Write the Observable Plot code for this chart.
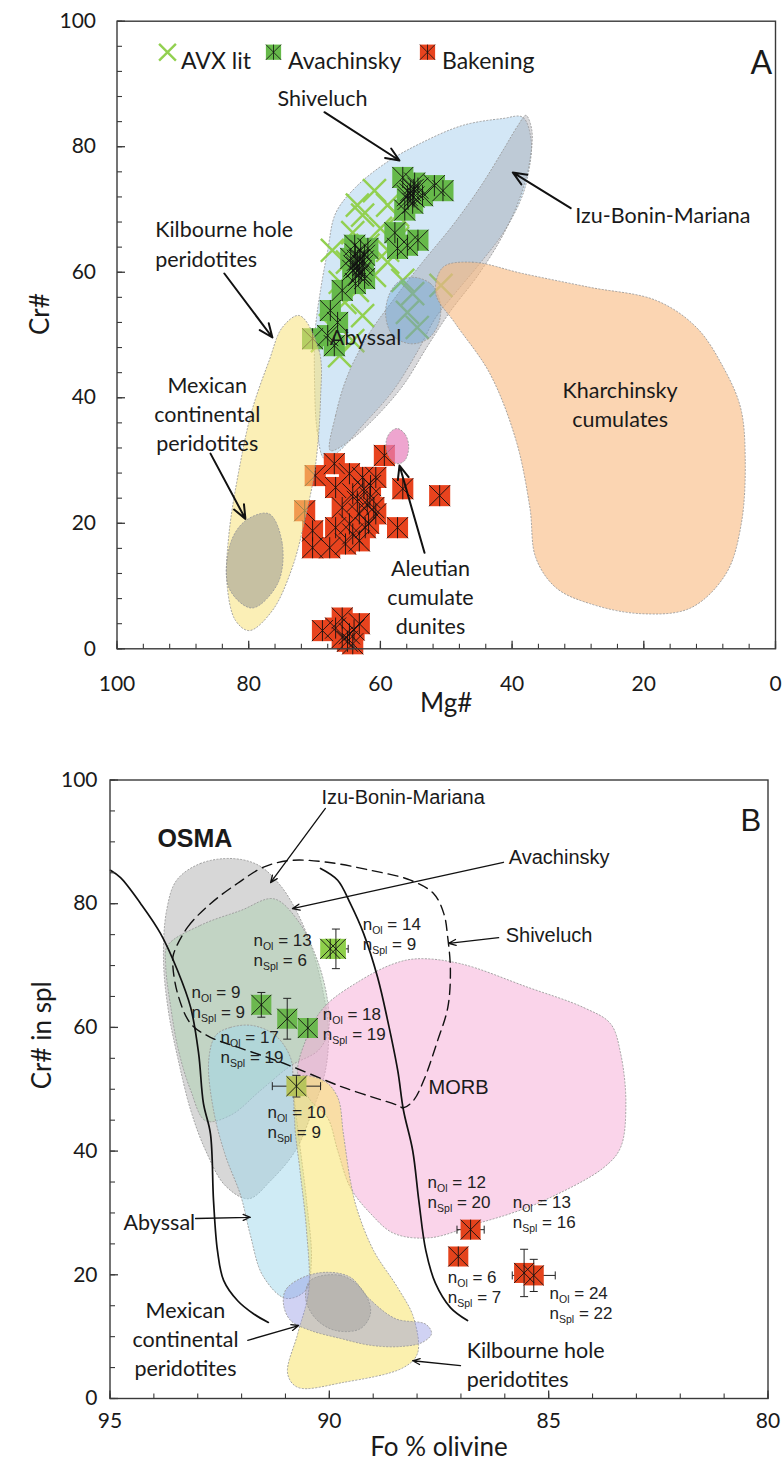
<!DOCTYPE html>
<html>
<head>
<meta charset="utf-8">
<script src="https://cdn.jsdelivr.net/npm/d3@7"></script>
<script src="https://cdn.jsdelivr.net/npm/@observablehq/plot@0.6"></script>
<style>
  body { margin: 0; background: #fff; }
  #chart { width: 782px; }
  #chart svg { display: block; }
</style>
</head>
<body>
<div id="chart"></div>
<script>
// ---------- Panel A: Cr# vs Mg# of spinel ----------
const mgTicks = [100, 80, 60, 40, 20, 0];
const crTicksA = [0, 20, 40, 60, 80, 100];

// [Mg#, Cr#]
const avxLit = [
  [60.9,73.0],[58.9,70.7],[62.7,69.1],[60.0,67.0],[64.2,66.3],[61.9,64.3],[57.4,65.4],[67.3,63.5],
  [65.0,61.6],[58.9,61.6],[60.9,59.5],[56.6,58.7],[66.1,58.4],[63.5,57.1],[55.1,56.6],[50.8,57.9],
  [55.9,53.6],[54.4,51.2],[65.4,55.2],[62.7,53.1],[67.6,51.5],[68.8,49.1],[64.2,49.1],[66.2,46.7],
  [58.9,63.5],[57.4,69.1],[63.5,70.7]
];
const avachinskyA = [
  [56.6,75.1],[54.8,74.2],[51.8,73.8],[55.9,72.2],[53.6,72.2],[55.1,71.0],[56.3,69.9],[50.5,73.0],
  [55.4,73.0],[54.3,73.4],[55.5,72.5],[55.0,73.2],[55.8,71.6],[54.9,72.0],
  [57.8,66.3],[54.3,65.1],[57.4,63.8],[55.9,64.3],
  [63.9,64.3],[63.0,63.5],[62.4,62.7],[63.5,61.9],[62.7,61.1],[64.2,60.3],[63.3,59.5],[62.4,59.0],
  [64.5,62.2],[61.9,63.8],[63.8,58.2],[65.8,57.1],[63.2,62.0],[63.6,60.8],[62.9,60.2],[63.8,62.9],
  [62.6,61.8],[63.1,59.8],[64.0,61.0],
  [67.6,53.9],[66.5,52.0],[68.0,49.9],[67.0,48.3],[70.3,49.4]
];
const bakeningA = [
  [59.4,30.8],[56.6,25.5],[51.0,24.4],[57.4,19.3],[69.9,27.6],[71.5,22.0],[67.0,29.5],[64.7,27.9],
  [62.7,27.3],[60.7,27.3],[66.8,25.7],[64.2,24.7],[61.6,24.1],[65.8,22.5],[63.2,21.5],[60.7,21.5],
  [66.8,19.3],[64.2,18.3],[70.3,18.8],[70.3,16.1],[67.7,16.1],[65.3,16.7],[63.2,17.2],[64.7,19.9],
  [62.3,19.3],[61.5,26.0],[62.0,23.0],[61.0,22.5],[62.5,25.5],[63.5,23.5],[61.8,20.0],
  [68.8,2.9],[65.8,4.9],[63.2,4.0],[65.8,1.8],[64.7,2.4],[66.8,3.3],[64.2,0.8],[64.0,3.0],[65.0,1.2]
];

// compositional fields, outlines as [Mg#, Cr#]
const shiveluchFieldA = [[68.5,30.3],[69.6,34.8],[70.0,42.7],[69.9,50.7],[69.1,57.1],[68.0,63.5],[66.8,69.4],[63.8,73.5],[59.2,77.4],[54.0,80.5],[47.5,83.4],[41.4,84.5],[38.4,84.7],[37.1,81.0],[37.6,75.4],[38.7,71.5],[41.4,66.2],[44.9,61.4],[48.3,57.1],[51.6,52.8],[54.3,47.5],[58.1,41.1],[62.7,35.6],[66.5,31.3]];
const ibmFieldA = [[67.6,31.6],[66.8,37.2],[65.0,43.5],[61.9,49.9],[58.1,55.5],[53.6,61.6],[49.0,67.5],[44.7,73.8],[41.4,79.4],[39.1,83.4],[37.9,85.0],[37.0,82.6],[37.3,77.8],[38.7,72.2],[41.4,65.9],[45.2,59.5],[49.3,53.9],[52.8,48.3],[56.6,41.9],[61.2,36.4],[65.0,32.9]];
const abyssalFieldA = [[55.1,59.2],[52.4,58.2],[51.0,55.5],[51.1,52.0],[52.8,49.4],[55.4,48.6],[58.1,49.9],[59.2,53.1],[58.6,56.6],[57.2,58.5]];
const kilbourneFieldA = [[72.3,53.1],[69.3,47.5],[69.1,39.6],[69.9,28.9],[71.4,20.9],[73.4,12.9],[76.4,6.1],[79.9,2.9],[82.0,4.5],[83.3,10.4],[83.0,18.3],[81.4,28.9],[79.5,38.0],[76.9,45.9],[74.9,51.2]];
const mexicanFieldA = [[76.9,21.5],[74.9,16.7],[75.6,10.4],[79.5,6.5],[83.0,9.7],[82.8,16.7],[80.5,20.4]];
const kharchinskyFieldA = [[50.5,60.8],[46.0,61.6],[38.4,59.8],[28.2,57.6],[18.1,55.5],[12.0,51.2],[7.9,44.8],[5.3,38.4],[4.6,30.5],[5.2,19.9],[7.5,12.0],[12.9,6.5],[20.5,5.6],[28.2,7.2],[33.3,9.7],[36.4,14.5],[37.3,22.5],[39.4,33.2],[43.4,43.9],[48.6,51.8],[51.6,56.6]];
const aleutianFieldA = [[57.4,35.1],[56.2,34.1],[55.7,32.1],[56.3,30.0],[57.5,29.5],[58.8,30.8],[59.1,33.2],[58.4,34.6]];

const labelsA = [
  {text: "Shiveluch", mg: 68.8, cr: 87.9, anchor: "middle"},
  {text: "Izu-Bonin-Mariana", mg: 30.4, cr: 69.4, anchor: "start"},
  {text: "Kilbourne hole\nperidotites", mg: 94.2, cr: 64.7, anchor: "start"},
  {text: "Mexican\ncontinental\nperidotites", mg: 86.3, cr: 37.6, anchor: "middle"},
  {text: "Abyssal", mg: 67.7, cr: 49.9, anchor: "start"},
  {text: "Kharchinsky\ncumulates", mg: 23.6, cr: 39.15, anchor: "middle"},
  {text: "Aleutian\ncumulate\ndunites", mg: 52.4, cr: 8.5, anchor: "middle"}
];
const arrowsA = [
  {x1: 68.5, y1: 85.5, x2: 57.1, y2: 77.8},
  {x1: 31.1, y1: 70.2, x2: 39.9, y2: 75.9},
  {x1: 83.7, y1: 59.8, x2: 76.4, y2: 49.6},
  {x1: 85.8, y1: 31.1, x2: 80.5, y2: 20.7},
  {x1: 53.3, y1: 15.3, x2: 57.1, y2: 29.2}
];

// ---------- Panel B: Cr# in spinel vs Fo in olivine (OSMA) ----------
const foTicks = [95, 90, 85, 80];
const crTicksB = [0, 20, 40, 60, 80, 100];

// sample averages with 1σ bars
const pointsB = [
  {fo: 89.98, cr: 72.7, dFo: 0,    dCr: 0,    fill: "#8ecf4a"},
  {fo: 89.85, cr: 72.7, dFo: 0.28, dCr: 3.2,  fill: "#8ecf4a"},
  {fo: 91.55, cr: 63.65, dFo: 0,   dCr: 2.0,  fill: "#6cb84f"},
  {fo: 90.96, cr: 61.4, dFo: 0,    dCr: 3.3,  fill: "#6cb84f"},
  {fo: 90.49, cr: 59.9, dFo: 0,    dCr: 0,    fill: "#6cb84f"},
  {fo: 90.75, cr: 50.5, dFo: 0.55, dCr: 1.75, fill: "#b7c45c"},
  {fo: 86.78, cr: 27.3, dFo: 0.31, dCr: 0,    fill: "#e4431c"},
  {fo: 87.06, cr: 22.96, dFo: 0,   dCr: 0,    fill: "#e4431c"},
  {fo: 85.56, cr: 20.3, dFo: 0,    dCr: 3.83, fill: "#e4431c"},
  {fo: 85.34, cr: 19.9, dFo: 0.49, dCr: 2.6,  fill: "#e4431c"}
];
// olivine / spinel analyses behind each average
const nOl  = [13, 14, 9, 17, 18, 10, 12, 6, 13, 24];
const nSpl = [6, 9, 9, 19, 19, 9, 20, 7, 16, 22];
// where each count label sits (first line)
const nLabelPos = [
  [91.73, 74.1], [89.24, 76.6], [93.14, 65.6], [92.48, 58.4], [90.15, 62.1],
  [91.41, 46.2], [87.76, 34.9], [87.30, 19.6], [85.82, 31.7], [84.98, 17.0]
];

// fields, outlines as [Fo, Cr#]
const ibmFieldB = [[93.48,83.8],[92.94,86.5],[92.21,87.3],[91.61,86.2],[91.11,82.9],[90.70,78.1],[90.38,72.4],[90.15,66.0],[90.02,59.5],[90.09,53.0],[90.38,46.6],[90.77,40.1],[91.34,35.2],[91.84,32.3],[92.37,34.4],[92.82,40.1],[93.16,46.6],[93.44,54.6],[93.67,62.7],[93.78,70.8],[93.71,78.9]];
const avachinskyFieldB = [[93.69,73.2],[92.94,76.5],[92.02,78.9],[91.27,80.8],[90.72,77.3],[90.27,70.8],[90.04,64.3],[90.02,59.5],[90.25,56.3],[90.88,53.8],[91.57,49.8],[92.25,45.8],[92.82,44.9],[93.16,49.8],[93.44,56.3],[93.62,63.5],[93.73,70.0]];
const abyssalFieldB = [[92.59,58.7],[92.25,60.0],[91.75,60.3],[91.23,58.7],[90.88,55.0],[90.82,49.8],[90.70,42.5],[90.52,32.0],[90.41,22.3],[90.54,17.5],[91.00,16.2],[91.52,19.9],[91.80,26.4],[92.02,32.8],[92.37,39.3],[92.64,46.6],[92.75,54.6]];
const kilbourneFieldB = [[90.72,51.9],[90.13,51.4],[89.81,48.7],[89.68,42.8],[89.52,35.2],[89.36,30.4],[88.99,23.9],[88.44,17.9],[88.08,13.1],[87.99,7.3],[88.31,5.0],[89.68,2.6],[90.72,1.8],[90.95,4.0],[90.72,10.5],[90.47,17.5],[90.52,27.2],[90.67,36.9],[90.79,44.9]];
const morbFieldB = [[90.72,52.5],[90.54,57.9],[90.13,63.2],[89.29,67.6],[88.53,70.3],[87.99,71.1],[87.01,70.3],[85.48,66.5],[84.20,63.2],[83.59,60.6],[83.36,55.8],[83.24,47.7],[83.36,40.6],[83.75,37.3],[85.11,32.0],[85.87,29.9],[86.62,28.3],[87.69,26.0],[88.53,26.7],[89.06,29.9],[89.52,34.1],[89.81,40.1],[90.04,45.4],[90.43,48.2]];
const mexicanFieldB = [[91.00,17.5],[90.66,19.4],[90.09,20.4],[89.52,19.6],[89.10,16.2],[88.49,12.9],[87.80,12.0],[87.67,10.5],[87.87,9.1],[88.38,8.4],[89.06,8.6],[89.74,9.7],[90.43,11.0],[90.88,12.6],[91.04,15.0]];
const mexicanCoreB = [[90.43,19.1],[89.74,19.9],[89.24,17.5],[89.06,13.9],[89.29,11.3],[89.86,11.0],[90.31,12.9],[90.54,16.2]];
const shiveluchFieldB = [[93.55,71.9],[93.23,76.2],[92.71,80.0],[92.09,83.3],[91.50,85.9],[90.88,87.0],[90.04,86.7],[89.06,85.4],[88.15,83.8],[87.62,81.6],[87.39,78.4],[87.30,74.5],[87.24,69.2],[87.30,63.2],[87.53,57.9],[87.85,51.4],[88.08,48.2],[88.31,47.0],[88.44,47.4],[89.68,50.3],[91.04,54.2],[92.09,56.8],[92.71,58.4],[93.16,60.6],[93.46,65.5],[93.57,70.3]];
// olivine–spinel mantle array bounds
const osmaLeft = [[94.99,85.4],[94.76,84.2],[94.30,80.0],[93.85,75.2],[93.46,69.2],[93.16,63.2],[92.98,55.8],[92.87,47.7],[92.71,42.8],[92.64,32.0],[92.55,23.9],[92.41,19.1],[92.09,15.8],[91.73,13.7],[91.39,12.3]];
const osmaRight = [[90.20,85.7],[89.81,83.8],[89.52,80.0],[89.22,75.2],[88.90,68.1],[88.67,61.1],[88.44,53.0],[88.31,46.6],[88.10,40.1],[87.96,32.0],[87.80,23.9],[87.58,18.6],[87.24,14.7],[86.85,12.6]];

const labelsBArial = [
  {text: "Izu-Bonin-Mariana", fo: 90.18, cr: 97.2},
  {text: "Avachinsky", fo: 85.91, cr: 87.5},
  {text: "Shiveluch", fo: 85.98, cr: 74.9},
  {text: "MORB", fo: 87.74, cr: 50.3}
];
const labelsBSans = [
  {text: "Abyssal", fo: 94.69, cr: 28.8, anchor: "start"},
  {text: "Mexican\ncontinental\nperidotites", fo: 93.28, cr: 9.9, anchor: "middle"},
  {text: "Kilbourne hole\nperidotites", fo: 86.87, cr: 5.75, anchor: "start"}
];
const arrowsB = [
  {x1: 90.09, y1: 95.4, x2: 91.34, y2: 83.4},
  {x1: 86.03, y1: 86.7, x2: 90.84, y2: 79.2},
  {x1: 86.14, y1: 74.5, x2: 87.28, y2: 73.6},
  {x1: 93.05, y1: 29.1, x2: 91.80, y2: 29.3},
  {x1: 91.86, y1: 9.4,  x2: 90.70, y2: 11.8},
  {x1: 87.01, y1: 5.3,  x2: 88.10, y2: 6.1}
];

// ---------- symbols ----------
// spreadsheet-style star: diagonal cross plus a vertical stroke, sized to the square
const excelStar = {draw(ctx, size) {
  const h = Math.sqrt(size) / 2;
  ctx.moveTo(-h, -h); ctx.lineTo(h, h);
  ctx.moveTo(-h, h); ctx.lineTo(h, -h);
  ctx.moveTo(0, -h); ctx.lineTo(0, h);
}};
const capH = {draw(ctx, size) { const w = Math.sqrt(size / Math.PI); ctx.moveTo(-w, 0); ctx.lineTo(w, 0); }};
const capV = {draw(ctx, size) { const w = Math.sqrt(size / Math.PI); ctx.moveTo(0, -w); ctx.lineTo(0, w); }};
const tickUp = {draw(ctx, size) { const l = Math.sqrt(size / Math.PI); ctx.moveTo(0, 0); ctx.lineTo(0, -l); }};
const tickRight = {draw(ctx, size) { const l = Math.sqrt(size / Math.PI); ctx.moveTo(0, 0); ctx.lineTo(l, 0); }};

const X = d => d[0], Y = d => d[1];
const axisColor = "#3a3a3a";
const sans = "Lato, 'Open Sans', sans-serif";
const arial = "'Liberation Sans', Arial, sans-serif";

function field(pts, fill, opacity) {
  return Plot.line(pts, {
    x: X, y: Y, curve: "catmull-rom-closed",
    fill, fillOpacity: opacity,
    stroke: "#9a9a9a", strokeWidth: 0.9, strokeDasharray: "1.2,2.2"
  });
}

// annotation text, split by anchor since text anchor is a constant option
function notes(rows, x, y, options) {
  return ["start", "middle", "end"].map(anchor =>
    Plot.text(rows.filter(d => (d.anchor || "start") === anchor), {x, y, text: "text", textAnchor: anchor, ...options}));
}

function inwardTicks(xMinor, xMajor, yMinor, yMajor) {
  return [
    Plot.dot(xMinor, {x: d => d, frameAnchor: "bottom", symbol: tickUp, r: 5, stroke: axisColor, strokeWidth: 1.1, fill: "none"}),
    Plot.dot(xMajor, {x: d => d, frameAnchor: "bottom", symbol: tickUp, r: 8, stroke: axisColor, strokeWidth: 1.3, fill: "none"}),
    Plot.dot(yMinor, {y: d => d, frameAnchor: "left", symbol: tickRight, r: 5, stroke: axisColor, strokeWidth: 1.1, fill: "none"}),
    Plot.dot(yMajor, {y: d => d, frameAnchor: "left", symbol: tickRight, r: 8, stroke: axisColor, strokeWidth: 1.3, fill: "none"})
  ];
}

// ---------- Panel A ----------
const chartA = Plot.plot({
  width: 782, height: 740,
  marginTop: 20.7, marginRight: 7, marginBottom: 91.7, marginLeft: 116.5,
  x: {domain: [100, 0]},
  y: {domain: [0, 100]},
  style: {fontFamily: sans, fontSize: "20px", color: "#1a1a1a", background: "#fff", overflow: "visible"},
  marks: [
    field(shiveluchFieldA, "#a8d0ee", 0.5),
    Plot.dot(avxLit, {x: X, y: Y, symbol: "times", r: 10.5, stroke: "#92d050", strokeWidth: 2.4}),
    Plot.dot(avachinskyA, {x: X, y: Y, symbol: "square", r: 11.9, fill: "#66b94a"}),
    Plot.dot(avachinskyA, {x: X, y: Y, symbol: excelStar, r: 11.9, fill: "none", stroke: "#111", strokeWidth: 0.9}),
    Plot.dot(bakeningA, {x: X, y: Y, symbol: "square", r: 11.9, fill: "#e8431e"}),
    Plot.dot(bakeningA, {x: X, y: Y, symbol: excelStar, r: 11.9, fill: "none", stroke: "#111", strokeWidth: 0.9}),
    field(ibmFieldA, "#a0a0a8", 0.4),
    field(abyssalFieldA, "#5b9bd0", 0.35),
    field(kharchinskyFieldA, "#f9b97f", 0.6),
    field(kilbourneFieldA, "#f8e27a", 0.55),
    field(mexicanFieldA, "#8c8c8c", 0.48),
    field(aleutianFieldA, "#e77fbb", 0.7),
    ...notes(labelsA, "mg", "cr", {fontSize: 21.5, lineHeight: 1.36, fill: "#1a1a1a"}),
    Plot.arrow(arrowsA, {x1: "x1", y1: "y1", x2: "x2", y2: "y2", stroke: "#111", strokeWidth: 2, headLength: 11, headAngle: 45}),
    // legend
    Plot.dot([0], {frameAnchor: "top-left", dx: 50.5, dy: 31, symbol: "times", r: 7.7, stroke: "#92d050", strokeWidth: 2.4}),
    Plot.text(["AVX lit"], {frameAnchor: "top-left", dx: 64, dy: 31, text: d => d, textAnchor: "start", fontSize: 23}),
    Plot.dot([0], {frameAnchor: "top-left", dx: 156.5, dy: 31, symbol: "square", r: 8.6, fill: "#66b94a"}),
    Plot.dot([0], {frameAnchor: "top-left", dx: 156.5, dy: 31, symbol: excelStar, r: 8.6, fill: "none", stroke: "#111", strokeWidth: 0.8}),
    Plot.text(["Avachinsky"], {frameAnchor: "top-left", dx: 171, dy: 31, text: d => d, textAnchor: "start", fontSize: 23}),
    Plot.dot([0], {frameAnchor: "top-left", dx: 310.5, dy: 31, symbol: "square", r: 8.6, fill: "#e8431e"}),
    Plot.dot([0], {frameAnchor: "top-left", dx: 310.5, dy: 31, symbol: excelStar, r: 8.6, fill: "none", stroke: "#111", strokeWidth: 0.8}),
    Plot.text(["Bakening"], {frameAnchor: "top-left", dx: 325, dy: 31, text: d => d, textAnchor: "start", fontSize: 23}),
    Plot.text(["A"], {frameAnchor: "top-left", dx: 633.5, dy: 30, text: d => d, fontSize: 32}),
    // axes
    ...inwardTicks(d3.range(0, 101, 4), mgTicks, d3.range(0, 101, 4), crTicksA),
    Plot.frame({stroke: axisColor, strokeWidth: 1.4}),
    Plot.axisX({ticks: mgTicks, tickSize: 0, tickPadding: 27, fontSize: 21, label: null}),
    Plot.axisY({ticks: crTicksA, tickSize: 0, tickPadding: 21, fontSize: 21, label: null}),
    Plot.text(["Mg#"], {frameAnchor: "bottom", dy: 63, text: d => d, fontSize: 26}),
    Plot.text(["Cr#"], {frameAnchor: "left", dx: -76, rotate: -90, text: d => d, fontSize: 26})
  ]
});

// ---------- Panel B ----------
const nRows = pointsB.map((p, i) => ({fo: nLabelPos[i][0], cr: nLabelPos[i][1], ol: nOl[i], spl: nSpl[i]}));
const withCr = pointsB.filter(d => d.dCr > 0);
const withFo = pointsB.filter(d => d.dFo > 0);

const chartB = Plot.plot({
  width: 782, height: 733,
  marginTop: 39.5, marginRight: 14.5, marginBottom: 75, marginLeft: 109.5,
  x: {domain: [95, 80]},
  y: {domain: [0, 100]},
  style: {fontFamily: sans, fontSize: "20px", color: "#1a1a1a", background: "#fff", overflow: "visible"},
  marks: [
    field(ibmFieldB, "#bdbdbd", 0.6),
    field(avachinskyFieldB, "#b1d1b5", 0.55),
    field(morbFieldB, "#f5a9d6", 0.5),
    field(abyssalFieldB, "#9fd8ec", 0.5),
    field(kilbourneFieldB, "#f7e36b", 0.55),
    field(mexicanFieldB, "#8a8ee0", 0.4),
    field(mexicanCoreB, "#8a8a8a", 0.3),
    Plot.line(osmaLeft, {x: X, y: Y, curve: "catmull-rom", stroke: "#111", strokeWidth: 1.7}),
    Plot.line(osmaRight, {x: X, y: Y, curve: "catmull-rom", stroke: "#111", strokeWidth: 1.7}),
    Plot.line(shiveluchFieldB, {x: X, y: Y, curve: "catmull-rom-closed", stroke: "#111", strokeWidth: 1.4, strokeDasharray: "10,6", fill: "none"}),
    // error bars
    Plot.link(withCr, {x1: "fo", x2: "fo", y1: d => d.cr - d.dCr, y2: d => d.cr + d.dCr, stroke: "#222", strokeWidth: 1}),
    Plot.dot(withCr, {x: "fo", y: d => d.cr - d.dCr, symbol: capH, r: 4, stroke: "#222", strokeWidth: 1, fill: "none"}),
    Plot.dot(withCr, {x: "fo", y: d => d.cr + d.dCr, symbol: capH, r: 4, stroke: "#222", strokeWidth: 1, fill: "none"}),
    Plot.link(withFo, {x1: d => d.fo - d.dFo, x2: d => d.fo + d.dFo, y1: "cr", y2: "cr", stroke: "#222", strokeWidth: 1}),
    Plot.dot(withFo, {x: d => d.fo - d.dFo, y: "cr", symbol: capV, r: 4, stroke: "#222", strokeWidth: 1, fill: "none"}),
    Plot.dot(withFo, {x: d => d.fo + d.dFo, y: "cr", symbol: capV, r: 4, stroke: "#222", strokeWidth: 1, fill: "none"}),
    // sample averages
    Plot.dot(pointsB, {x: "fo", y: "cr", symbol: "square", r: 11.3, fill: d => d.fill}),
    Plot.dot(pointsB, {x: "fo", y: "cr", symbol: excelStar, r: 11.3, fill: "none", stroke: "#111", strokeWidth: 0.9}),
    Plot.text(nRows, {x: "fo", y: "cr", text: d => `n_Ol = ${d.ol}`, textAnchor: "start", fontFamily: arial, fontSize: 17, fill: "#222"}),
    Plot.text(nRows, {x: "fo", y: "cr", dy: 20, text: d => `n_Spl = ${d.spl}`, textAnchor: "start", fontFamily: arial, fontSize: 17, fill: "#222"}),
    // annotations
    ...notes(labelsBArial, "fo", "cr", {fontFamily: arial, fontSize: 20, fill: "#1a1a1a"}),
    ...notes(labelsBSans, "fo", "cr", {fontSize: 21.5, lineHeight: 1.35, fill: "#1a1a1a"}),
    Plot.text(["OSMA"], {x: 93.92, y: 90.5, text: d => d, textAnchor: "start", fontFamily: arial, fontWeight: "bold", fontSize: 25}),
    Plot.arrow(arrowsB, {x1: "x1", y1: "y1", x2: "x2", y2: "y2", stroke: "#111", strokeWidth: 1.3, headLength: 9, headAngle: 45}),
    Plot.text(["B"], {frameAnchor: "top-left", dx: 630.5, dy: 28.5, text: d => d, fontFamily: arial, fontSize: 31}),
    // axes
    ...inwardTicks(d3.range(80, 96, 1), foTicks, d3.range(0, 101, 5), crTicksB),
    Plot.frame({stroke: axisColor, strokeWidth: 1.4}),
    Plot.axisX({ticks: foTicks, tickSize: 0, tickPadding: 15, fontSize: 21, label: null}),
    Plot.axisY({ticks: crTicksB, tickSize: 0, tickPadding: 12.5, fontSize: 21, label: null}),
    Plot.text(["Fo % olivine"], {frameAnchor: "bottom", dy: 57, text: d => d, fontSize: 26}),
    Plot.text(["Cr# in spl"], {frameAnchor: "left", dx: -67.5, rotate: -90, text: d => d, fontSize: 26})
  ]
});

// turn "n_Ol" style labels into n with a subscript
function subscriptLabels(svg) {
  const ns = "http://www.w3.org/2000/svg";
  svg.querySelectorAll("text").forEach(t => {
    if (t.children.length) return;
    const m = t.textContent.match(/^n_(\S+)(.*)$/);
    if (!m) return;
    t.textContent = "";
    const a = document.createElementNS(ns, "tspan");
    a.textContent = "n";
    const b = document.createElementNS(ns, "tspan");
    b.textContent = m[1];
    b.setAttribute("font-size", "10.5");
    b.setAttribute("dy", "4");
    const c = document.createElementNS(ns, "tspan");
    c.textContent = m[2];
    c.setAttribute("dy", "-4");
    t.append(a, b, c);
  });
}
subscriptLabels(chartB);

document.getElementById("chart").append(chartA, chartB);
</script>
</body>
</html>
